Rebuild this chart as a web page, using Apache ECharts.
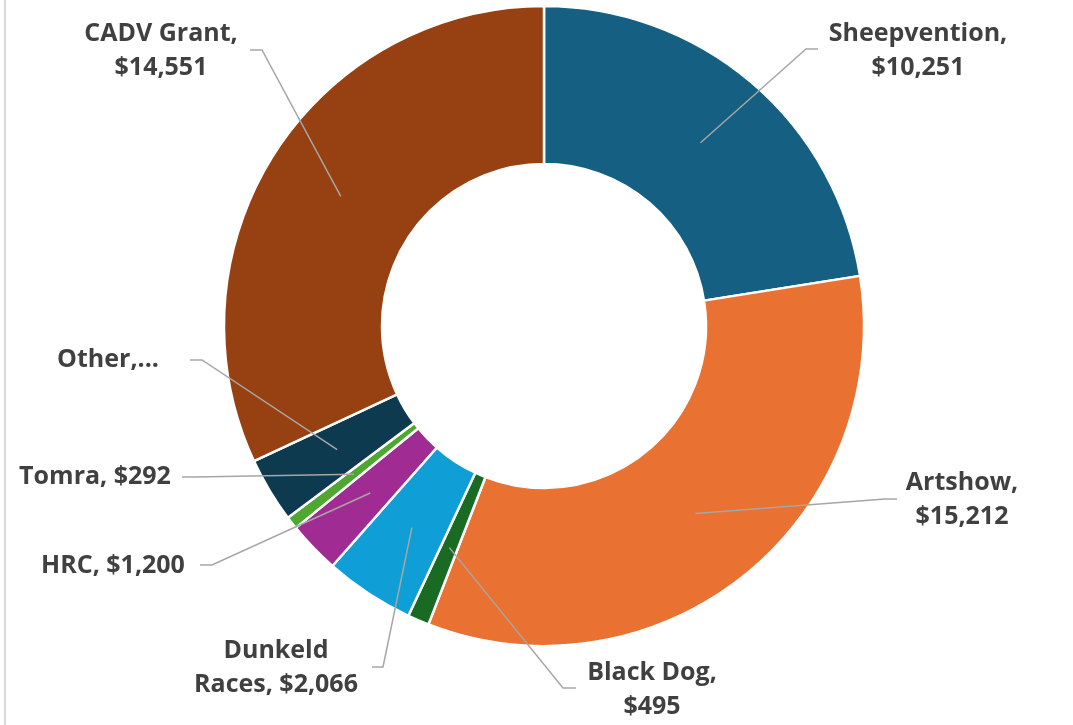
<!DOCTYPE html>
<html>
<head>
<meta charset="utf-8">
<script src="https://cdn.jsdelivr.net/npm/echarts@6/dist/echarts.min.js"></script>
<style>
  html, body { margin: 0; padding: 0; background: #ffffff; }
  #chart { width: 1073px; height: 725px; }
</style>
</head>
<body>
<div id="chart"></div>
<script>
// ---- data ----
const categories = ['Sheepvention', 'Artshow', 'Black Dog', 'Dunkeld Races', 'HRC', 'Tomra', 'Other', 'CADV Grant'];
const amounts = [10251, 15212, 495, 2066, 1200, 292, 1500, 14551];

// ---- styles / layout ----
const sliceColors = ['#156082', '#E97132', '#196B24', '#0F9ED5', '#A02B93', '#4EA72E', '#0E3A4F', '#974011'];
const labelWrap = ['name', 'name', 'name', 'word', 'none', 'none', 'trunc', 'name'];
const labelCenters = [[918, 51], [962, 500], [652, 690], [276, 668], [113, 566], [95, 477], [108, 360], [161, 51]];
const leaderEnds = [[818, 49, 806], [897, 499, 885], [576, 688, 563], [372, 667, 383], [200, 565, 212], [182, 477, 194], [190, 360, 202], [250, 50, 262]];
const CX = 544, CY = 326, R_IN = 162, R_OUT = 320;

const total = amounts.reduce((a, b) => a + b, 0);
const midAngles = [];
let acc = 0;
amounts.forEach(v => { midAngles.push((acc + v / 2) / total * Math.PI * 2); acc += v; });

function money(v) { return '$' + v.toLocaleString('en-US'); }
function labelText(p) {
  const n = p.name, v = money(p.value);
  switch (labelWrap[p.dataIndex]) {
    case 'name': return n + ',\n' + v;
    case 'word': {
      const i = n.indexOf(' ');
      return n.slice(0, i) + '\n' + n.slice(i + 1) + ', ' + v;
    }
    case 'trunc': return n + ',...';
    default: return n + ', ' + v;
  }
}

const pieData = categories.map((n, i) => ({ name: n, value: amounts[i], itemStyle: { color: sliceColors[i] } }));

const chart = echarts.init(document.getElementById('chart'), null, { renderer: 'canvas' });
chart.setOption({
  backgroundColor: '#ffffff',
  animation: false,
  graphic: [{
    type: 'line',
    shape: { x1: 5, y1: 0, x2: 5, y2: 725 },
    style: { stroke: '#d9d9d9', lineWidth: 2 }
  }],
  series: [{
    // the ring itself
    type: 'pie',
    z: 2,
    center: [CX, CY],
    radius: [R_IN, R_OUT],
    startAngle: 90,
    clockwise: true,
    silent: true,
    itemStyle: { borderColor: '#ffffff', borderWidth: 2.5 },
    label: { show: false },
    labelLine: { show: false },
    emphasis: { disabled: true },
    data: pieData
  }, {
    // same ring, transparent, carrying labels and leader lines on top
    type: 'pie',
    z: 5,
    center: [CX, CY],
    radius: [R_IN, R_OUT],
    startAngle: 90,
    clockwise: true,
    silent: true,
    avoidLabelOverlap: false,
    itemStyle: { color: 'rgba(0,0,0,0)', borderWidth: 0 },
    label: {
      show: true,
      position: 'outside',
      formatter: labelText,
      fontFamily: 'Open Sans',
      fontWeight: 'bold',
      fontSize: 25,
      lineHeight: 34,
      color: '#404040'
    },
    labelLine: {
      show: true,
      showAbove: true,
      length: 10,
      length2: 10,
      smooth: false,
      lineStyle: { color: '#a6a6a6', width: 1.5 }
    },
    emphasis: { disabled: true },
    labelLayout: function (params) {
      const i = params.dataIndex;
      const a = midAngles[i];
      const rMid = (R_IN + R_OUT) / 2;
      const sx = CX + rMid * Math.sin(a);
      const sy = CY - rMid * Math.cos(a);
      const e = leaderEnds[i];
      return {
        x: labelCenters[i][0],
        y: labelCenters[i][1],
        align: 'center',
        verticalAlign: 'middle',
        labelLinePoints: [[sx, sy], [e[2], e[1]], [e[0], e[1]]]
      };
    },
    data: categories.map((n, i) => ({ name: n, value: amounts[i] }))
  }]
});
</script>
</body>
</html>
